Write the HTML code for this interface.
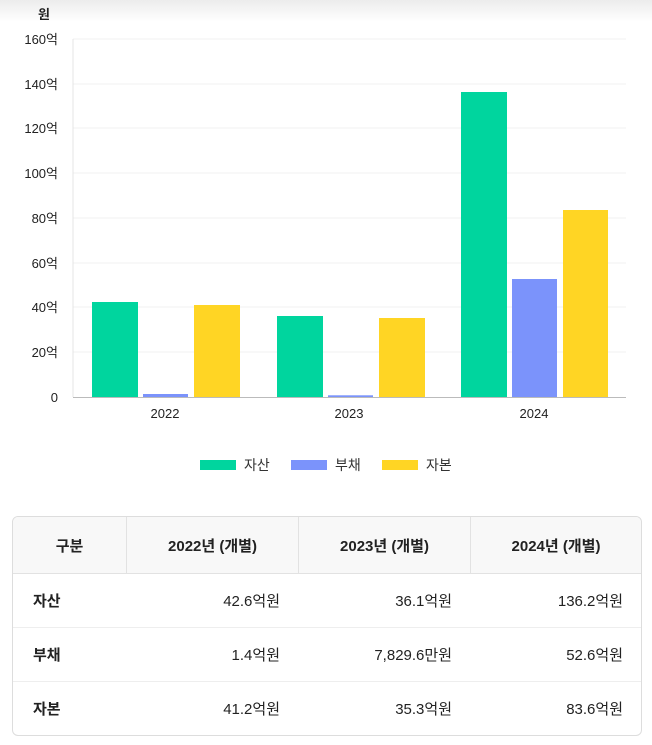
<!DOCTYPE html><html><head><meta charset="utf-8"><style>
body{margin:0;width:652px;height:745px;background:#fff;font-family:"Liberation Sans","Noto Sans CJK KR",sans-serif;position:relative;overflow:hidden}
.top{position:absolute;left:0;top:0;width:652px;height:22px;background:linear-gradient(#ececec,#fff)}
table{position:absolute;left:12px;top:516px;width:628px;table-layout:fixed;border-collapse:separate;border-spacing:0;border:1px solid #ddd;border-radius:6px;overflow:hidden;font-size:15px;color:#222}
th{background:#f8f8f8;height:56px;padding:0;font-weight:bold;border-bottom:1px solid #e2e2e2;border-left:1px solid #e2e2e2;font-size:15px}
th:first-child,td:first-child{border-left:none}
td{height:53px;padding:0 18px 0 0;border-top:1px solid #eee;text-align:right}
tr:nth-child(2) td{border-top:none}
td:first-child{text-align:left;padding-left:20px;font-weight:bold}
</style></head><body>
<div class="top"></div>
<svg width="652" height="500" style="position:absolute;left:0;top:0" font-family="Liberation Sans, Noto Sans CJK KR, sans-serif">
<text x="38" y="19" font-size="13" font-weight="bold" fill="#222">원</text>
<g stroke="#f0f0f0">
<line x1="73" x2="626" y1="39" y2="39"/><line x1="73" x2="626" y1="84" y2="84"/><line x1="73" x2="626" y1="128" y2="128"/><line x1="73" x2="626" y1="173" y2="173"/><line x1="73" x2="626" y1="218" y2="218"/><line x1="73" x2="626" y1="263" y2="263"/><line x1="73" x2="626" y1="307" y2="307"/><line x1="73" x2="626" y1="352" y2="352"/>
</g>
<line x1="73" x2="73" y1="39" y2="397" stroke="#e4e4e4"/>
<line x1="73" x2="626" y1="397.5" y2="397.5" stroke="#bbb"/>
<g font-size="13" fill="#222" text-anchor="end">
<text x="58" y="44">160억</text><text x="58" y="89">140억</text><text x="58" y="133">120억</text><text x="58" y="178">100억</text><text x="58" y="223">80억</text><text x="58" y="268">60억</text><text x="58" y="312">40억</text><text x="58" y="357">20억</text><text x="58" y="402">0</text>
</g>
<g fill="#00d59e"><rect x="92" y="302" width="46" height="95"/><rect x="277" y="316" width="46" height="81"/><rect x="461" y="92" width="46" height="305"/></g>
<g fill="#7b93fb"><rect x="143" y="394" width="45" height="3"/><rect x="328" y="395.3" width="45" height="1.7"/><rect x="512" y="279" width="45" height="118"/></g>
<g fill="#ffd524"><rect x="194" y="305" width="46" height="92"/><rect x="379" y="318" width="46" height="79"/><rect x="563" y="210" width="45" height="187"/></g>
<g font-size="13" fill="#222" text-anchor="middle"><text x="165" y="418">2022</text><text x="349" y="418">2023</text><text x="534" y="418">2024</text></g>
<rect x="200" y="460" width="36" height="10" fill="#00d59e"/><text x="244" y="470" font-size="14" fill="#333">자산</text>
<rect x="291" y="460" width="36" height="10" fill="#7b93fb"/><text x="335" y="470" font-size="14" fill="#333">부채</text>
<rect x="382" y="460" width="36" height="10" fill="#ffd524"/><text x="426" y="470" font-size="14" fill="#333">자본</text>
</svg>
<table>
<colgroup><col style="width:113px"><col style="width:172px"><col style="width:172px"><col style="width:171px"></colgroup>
<tr><th>구분</th><th>2022년 (개별)</th><th>2023년 (개별)</th><th>2024년 (개별)</th></tr>
<tr><td>자산</td><td>42.6억원</td><td>36.1억원</td><td>136.2억원</td></tr>
<tr><td>부채</td><td>1.4억원</td><td>7,829.6만원</td><td>52.6억원</td></tr>
<tr><td>자본</td><td>41.2억원</td><td>35.3억원</td><td>83.6억원</td></tr>
</table>
</body></html>
